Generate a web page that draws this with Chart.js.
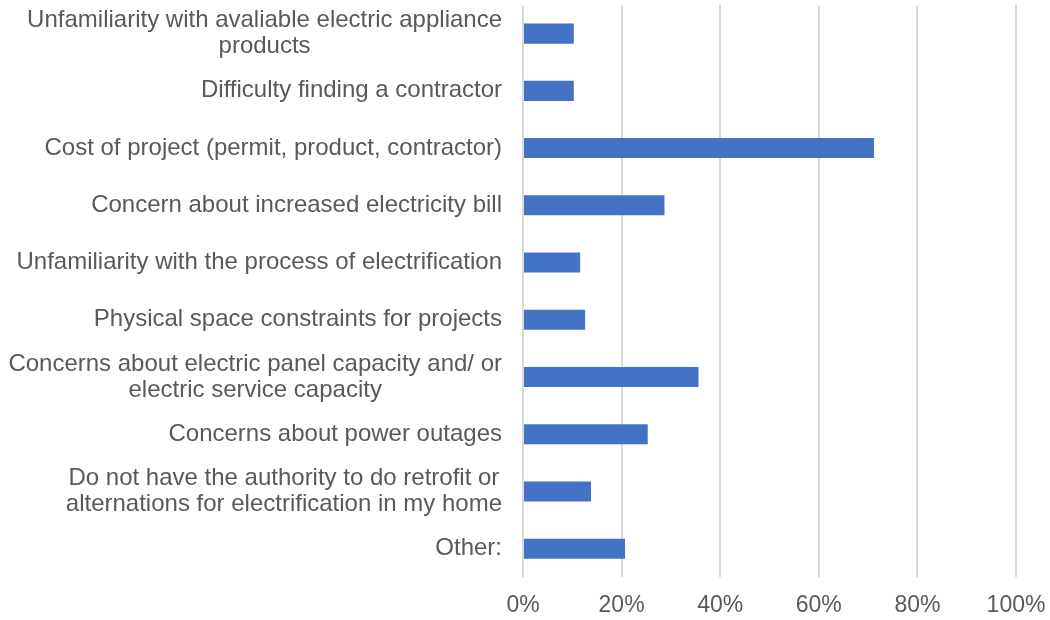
<!DOCTYPE html>
<html lang="en">
<head>
  <meta charset="UTF-8">
  <title>Barriers to Electrification</title>
  <script src="https://cdn.jsdelivr.net/npm/chart.js"></script>
  <style>
    body { margin: 0; background: #fff; }
    .chart-container { width: 1050px; height: 620px; }
  </style>
</head>
<body>
  <div class="chart-container">
    <canvas id="barrierChart"></canvas>
  </div>
  <script>
    // survey answers, multi-line ones split into arrays
    const categories = [
      ['Unfamiliarity with avaliable electric appliance', 'products'],
      'Difficulty finding a contractor',
      'Cost of project (permit, product, contractor)',
      'Concern about increased electricity bill',
      'Unfamiliarity with the process of electrification',
      'Physical space constraints for projects',
      ['Concerns about electric panel capacity and/ or', 'electric service capacity'],
      'Concerns about power outages',
      ['Do not have the authority to do retrofit or', 'alternations for electrification in my home'],
      'Other:'
    ];
    // share of respondents (%)
    const shares = [10.3, 10.3, 71.2, 28.7, 11.6, 12.6, 35.6, 25.3, 13.8, 20.7];
    const xTicks = [0, 20, 40, 60, 80, 100];

    const FONT = 'Liberation Sans, Arial, sans-serif';
    const TEXT_COLOR = '#595959';

    // category labels: right-aligned block, wrapped lines centred inside it
    const categoryLabels = {
      id: 'categoryLabels',
      afterDraw(chart) {
        const { ctx, scales: { y } } = chart;
        const right = chart.chartArea.left - 21;
        const lineH = 26;
        ctx.save();
        ctx.font = '24px ' + FONT;
        ctx.fillStyle = TEXT_COLOR;
        ctx.textAlign = 'center';
        ctx.textBaseline = 'middle';
        categories.forEach((label, i) => {
          const lines = Array.isArray(label) ? label : [label];
          const w = Math.max(...lines.map(l => ctx.measureText(l).width));
          const cx = right - w / 2;
          const cy = y.getPixelForTick(i);
          lines.forEach((line, k) => {
            ctx.fillText(line, cx, cy + (k - (lines.length - 1) / 2) * lineH);
          });
        });
        ctx.restore();
      }
    };

    new Chart(document.getElementById('barrierChart'), {
      type: 'bar',
      data: {
        labels: categories,
        datasets: [{
          data: shares,
          backgroundColor: '#4472C4',
          borderWidth: 0,
          barPercentage: 0.35,
          categoryPercentage: 1
        }]
      },
      options: {
        indexAxis: 'y',
        responsive: true,
        maintainAspectRatio: false,
        animation: false,
        layout: { padding: { top: 5, right: 0, left: 0, bottom: -13 } },
        plugins: {
          legend: { display: false },
          tooltip: { enabled: false }
        },
        scales: {
          x: {
            min: 0,
            max: 100,
            afterBuildTicks: axis => { axis.ticks = xTicks.map(v => ({ value: v })); },
            afterFit: scale => { scale.paddingLeft = 0; scale.paddingRight = 34; },
            ticks: {
              color: TEXT_COLOR,
              font: { family: FONT, size: 23 },
              padding: 14,
              callback: v => v + '%'
            },
            grid: { color: '#d9d9d9', lineWidth: 2, drawTicks: false },
            border: { display: false }
          },
          y: {
            ticks: { display: false },
            grid: { display: false },
            border: { display: false },
            afterFit: scale => { scale.width = 523; }
          }
        }
      },
      plugins: [categoryLabels]
    });
  </script>
</body>
</html>
